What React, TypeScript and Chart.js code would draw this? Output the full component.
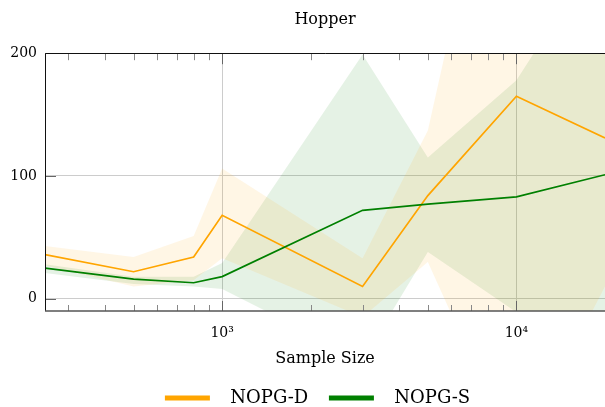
import React, { useEffect, useRef } from "react";
import { Chart, registerables } from "chart.js";

Chart.register(...registerables);

const TITLE = "Hopper";
const X_TITLE = "Sample Size";
const SAMPLE_SIZES = [250, 500, 800, 1000, 3000, 5000, 10000, 20000];

const NOPG_D_MEAN = [36, 22, 34, 68, 10, 84, 165, 131];
const NOPG_D_LOW = [27, 10, 15, 33, -15, 30, -130, 10];
const NOPG_D_HIGH = [43, 34, 51, 106, 33, 137, 460, 300];

const NOPG_S_MEAN = [25, 16, 13, 18, 72, 77, 83, 101];
const NOPG_S_LOW = [21, 12, 10, 8, -50, 38, -11, -30];
const NOPG_S_HIGH = [28, 18, 18, 29, 199, 115, 178, 290];

const X_TICKS = [1000, 10000];
const X_TICK_LABELS: Record<number, string> = { 1000: "10³", 10000: "10⁴" };
const X_MINOR = [300, 400, 500, 600, 700, 800, 900, 2000, 3000, 4000, 5000, 6000, 7000, 8000, 9000];
const Y_TICKS = [0, 100, 200];

const ORANGE = "#FFA500";
const GREEN = "#008000";
const ORANGE_FILL = "rgba(255,165,0,0.1)";
const GREEN_FILL = "rgba(0,128,0,0.1)";
const FONT = "'DejaVu Serif', serif";

const pts = (ys: number[]) => SAMPLE_SIZES.map((x, i) => ({ x, y: ys[i] }));

const framePlugin = {
  id: "frameTicks",
  afterLayout(chart: any) {
    if (chart.titleBlock) {
      chart.titleBlock.left = chart.chartArea.left;
      chart.titleBlock.right = chart.chartArea.right;
    }
    if (chart.legend) {
      chart.legend.left += 15;
      chart.legend.right += 15;
    }
  },
  afterDatasetsDraw(chart: any) {
    const { ctx, chartArea: a, scales } = chart;
    const xs = scales.x;
    const ys = scales.y;
    ctx.save();
    ctx.lineWidth = 1;
    ctx.strokeStyle = "#888";
    X_MINOR.forEach((v) => {
      const p = Math.round(xs.getPixelForValue(v)) + 0.5;
      ctx.beginPath();
      ctx.moveTo(p, a.bottom);
      ctx.lineTo(p, a.bottom - 6);
      ctx.moveTo(p, a.top);
      ctx.lineTo(p, a.top + 7);
      ctx.stroke();
    });
    ctx.strokeStyle = "#666";
    X_TICKS.forEach((v) => {
      const p = Math.round(xs.getPixelForValue(v)) + 0.5;
      ctx.beginPath();
      ctx.moveTo(p, a.bottom);
      ctx.lineTo(p, a.bottom - 10);
      ctx.moveTo(p, a.top);
      ctx.lineTo(p, a.top + 11);
      ctx.stroke();
    });
    Y_TICKS.forEach((v) => {
      const p = Math.round(ys.getPixelForValue(v)) + 0.5;
      ctx.beginPath();
      ctx.moveTo(a.left, p);
      ctx.lineTo(a.left + 11, p);
      ctx.stroke();
    });
    ctx.strokeStyle = "#111";
    ctx.lineWidth = 1;
    ctx.beginPath();
    const l = Math.round(a.left) + 0.5;
    const t = Math.round(a.top) + 0.5;
    ctx.moveTo(a.right + 2, t);
    ctx.lineTo(l, t);
    ctx.lineTo(l, a.bottom);
    ctx.stroke();
    ctx.strokeStyle = "#555";
    ctx.lineWidth = 1.5;
    ctx.beginPath();
    ctx.moveTo(a.left, a.bottom);
    ctx.lineTo(a.right + 2, a.bottom);
    ctx.stroke();
    ctx.restore();
  },
};

export default function App() {
  const ref = useRef<HTMLCanvasElement | null>(null);
  useEffect(() => {
    if (!ref.current) return;
    const band = (data: number[], fill: any, color: string) => ({
      data: pts(data),
      borderWidth: 0,
      borderColor: "rgba(0,0,0,0)",
      backgroundColor: color,
      pointRadius: 0,
      fill,
      order: 2,
      tension: 0,
    });
    const chart = new Chart(ref.current, {
      type: "line",
      data: {
        datasets: [
          { label: "D low", ...band(NOPG_D_LOW, false, ORANGE_FILL) },
          { label: "D high", ...band(NOPG_D_HIGH, "-1", ORANGE_FILL) },
          { label: "S low", ...band(NOPG_S_LOW, false, GREEN_FILL) },
          { label: "S high", ...band(NOPG_S_HIGH, "-1", GREEN_FILL) },
          {
            label: "NOPG-D",
            data: pts(NOPG_D_MEAN),
            borderColor: ORANGE,
            backgroundColor: ORANGE,
            borderWidth: 1.7,
            pointRadius: 0,
            fill: false,
            order: 1,
            tension: 0,
          },
          {
            label: "NOPG-S",
            data: pts(NOPG_S_MEAN),
            borderColor: GREEN,
            backgroundColor: GREEN,
            borderWidth: 1.7,
            pointRadius: 0,
            fill: false,
            order: 0,
            tension: 0,
          },
        ],
      },
      options: {
        responsive: false,
        animation: false,
        devicePixelRatio: 1,
        layout: { padding: { left: 0, right: 0, top: 0, bottom: 0 } },
        scales: {
          x: {
            type: "logarithmic",
            min: 250,
            max: 20000,
            afterBuildTicks: (s: any) => {
              s.ticks = X_TICKS.map((v) => ({ value: v }));
            },
            afterFit: (s: any) => {
              s.height = 63;
            },
            grid: { color: "#cccccc", lineWidth: 1, drawTicks: false },
            border: { display: false },
            ticks: {
              autoSkip: false,
              maxRotation: 0,
              padding: 14,
              color: "#000",
              font: { family: FONT, size: 14 },
              callback: (v: any) => X_TICK_LABELS[Number(v)] ?? "",
            },
            title: {
              display: true,
              text: X_TITLE,
              color: "#000",
              font: { family: FONT, size: 16 },
              padding: { top: 0, bottom: 6 },
            },
          },
          y: {
            type: "linear",
            min: -10,
            max: 200,
            afterBuildTicks: (s: any) => {
              s.ticks = Y_TICKS.map((v) => ({ value: v }));
            },
            afterFit: (s: any) => {
              s.width = 45;
            },
            grid: { color: "#cccccc", lineWidth: 1, drawTicks: false },
            border: { display: false },
            ticks: {
              padding: 8,
              color: "#000",
              font: { family: FONT, size: 14 },
            },
          },
        },
        plugins: {
          title: {
            display: true,
            text: TITLE,
            color: "#000",
            font: { family: FONT, size: 16, weight: "normal" },
            padding: { top: 10, bottom: 24 },
          },
          legend: {
            position: "bottom",
            labels: {
              boxWidth: 45,
              boxHeight: 5,
              padding: 15,
              color: "#000",
              font: { family: FONT, size: 18 },
              filter: (item: any) => item.datasetIndex >= 4,
              generateLabels: (c: any) =>
                c.data.datasets.map((d: any, i: number) => ({
                  text: i === 4 ? "  " + d.label + " " : "  " + d.label,
                  fillStyle: d.borderColor,
                  strokeStyle: d.borderColor,
                  lineWidth: 0,
                  hidden: false,
                  datasetIndex: i,
                  fontColor: "#000",
                })),
            },
          },
          tooltip: { enabled: false },
        },
      },
      plugins: [framePlugin],
    });
    return () => chart.destroy();
  }, []);
  return (
    <div style={{ position: "fixed", left: 0, top: 0, width: 605, height: 417 }}>
      <canvas ref={ref} width={605} height={417} style={{ display: "block" }} />
    </div>
  );
}
